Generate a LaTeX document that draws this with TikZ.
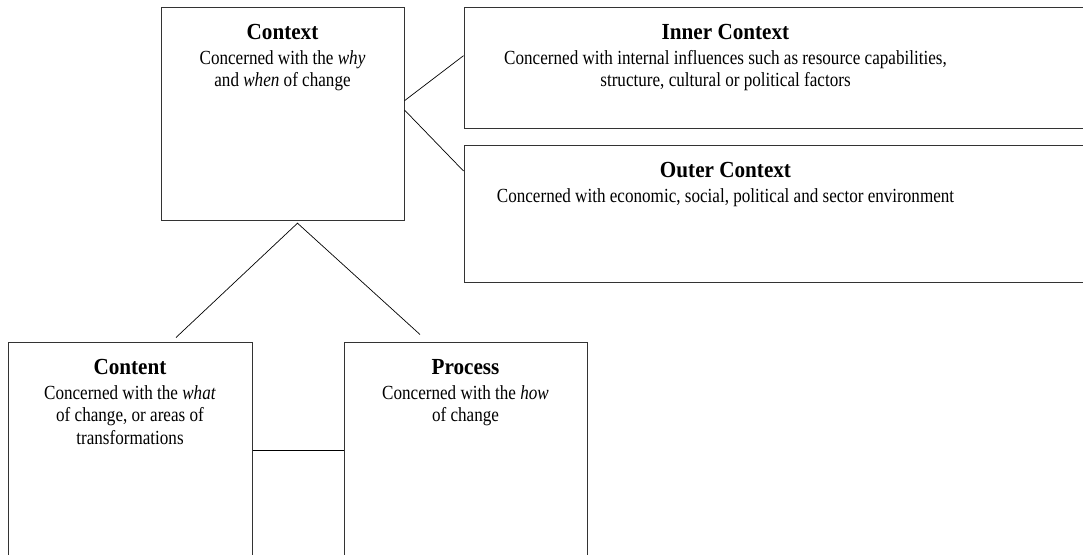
\documentclass[tikz,border=0pt]{standalone}
\usepackage{fontspec}
\setmainfont[FakeStretch=0.855]{Liberation Serif}
\newfontfamily\titlefont[FakeStretch=0.92]{Liberation Serif}
\usepackage{tikz}
\usetikzlibrary{positioning,calc}
\tikzset{%
	panel/.style = {draw=black!80, rectangle, inner sep=0pt, line width=1pt},
	blurb/.style = {anchor=base, inner sep=0pt, align=flush center, font=\fontsize{20}{22.5}\selectfont},
	link/.style  = {line width=0.7pt},
}
\newcommand{\boxtitle}[1]{{\titlefont\fontsize{23}{25}\selectfont\bfseries #1\par}\vspace{2pt}}

\begin{document}
\begin{tikzpicture}[x=1pt,y=-1pt]
	\useasboundingbox (0,0) rectangle (1083,554);
	
	% boxes
	\node[panel, minimum width=243pt, minimum height=213pt] (ctx) at (282.5,113.5) {};
	\node[panel, minimum width=626pt, minimum height=121pt] (inner) at (777,67.5) {};
	\node[panel, minimum width=626pt, minimum height=137pt, below=16pt of inner] (outer) {};
	\node[panel, minimum width=244pt, minimum height=228pt] (content) at (130,456) {};
	\node[panel, minimum width=243pt, minimum height=228pt, right=91pt of content] (process) {};
	
	% texts
	\node[blurb, text width=230pt] (ctxtext) at ([yshift=-33pt]ctx.north)
		{\boxtitle{Context}Concerned with the \emph{why}\\ and \emph{when} of change};
	\node[blurb, text width=560pt] (innertext) at ([xshift=262pt,yshift=-33pt]inner.north west)
		{\boxtitle{Inner Context}Concerned with internal influences such as resource capabilities,\\ structure, cultural or political factors};
	\node[blurb, text width=560pt] (outertext) at ([xshift=262pt,yshift=-33pt]outer.north west)
		{\boxtitle{Outer Context}Concerned with economic, social, political and sector environment};
	\node[blurb, text width=230pt] (contenttext) at ([yshift=-33pt]content.north)
		{\boxtitle{Content}Concerned with the \emph{what}\\ of change, or areas of\\ transformations};
	\node[blurb, text width=230pt] (processtext) at ([yshift=-33pt]process.north)
		{\boxtitle{Process}Concerned with the \emph{how}\\ of change};
	
	% connectors
	\coordinate (apex) at ([xshift=15pt,yshift=-2.7pt]ctx.south);
	\draw[link] ([yshift=12.8pt]ctx.east) -- ([yshift=11.8pt]inner.west);
	\draw[link] ([yshift=3.5pt]ctx.east) -- ([yshift=42.5pt]outer.west);
	\draw[link] ([xshift=46pt,yshift=4pt]content.north) -- (apex) -- ([xshift=-45.5pt,yshift=7pt]process.north);
	\draw[link] ([yshift=-109pt]content.north east) -- ([yshift=-109pt]process.north west);
\end{tikzpicture}
\end{document}
